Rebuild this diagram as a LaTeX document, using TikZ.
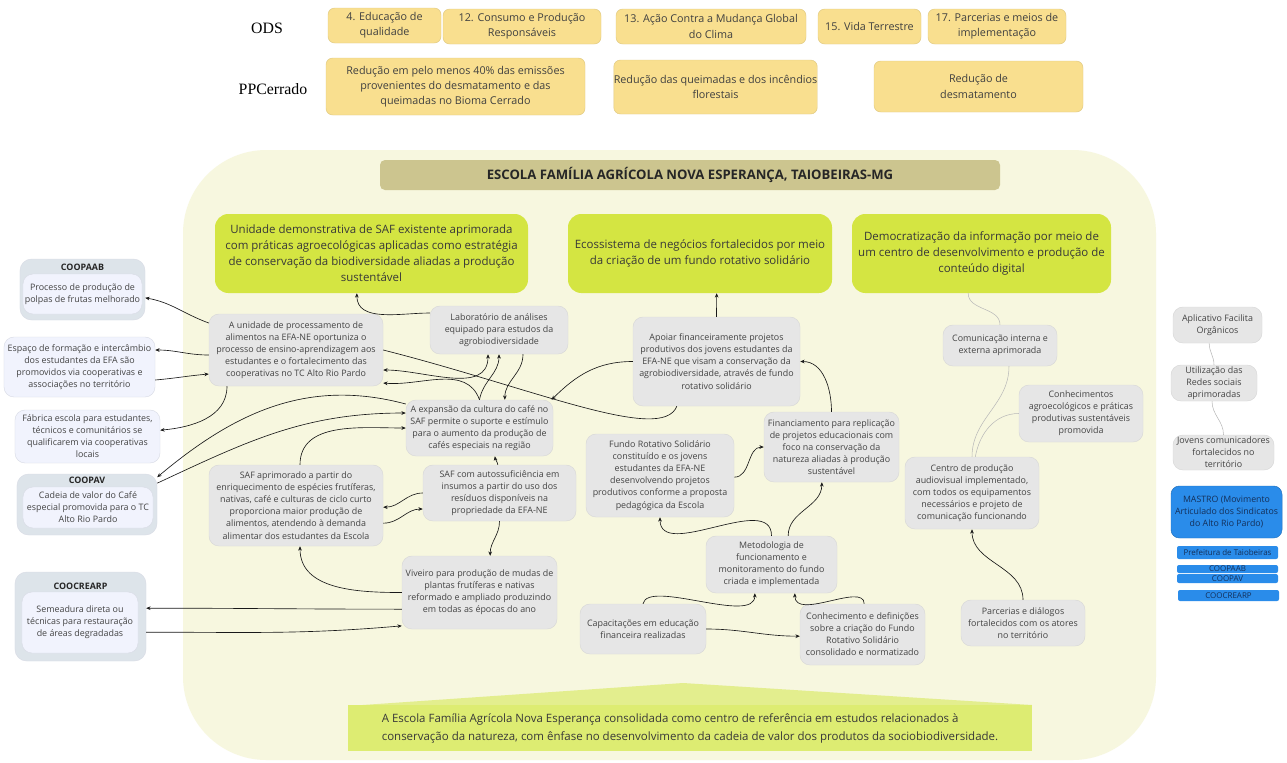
\documentclass[tikz,border=0pt]{standalone}
\usepackage{fontspec}
\setmainfont{Open Sans}
\newfontfamily\labelserif{Liberation Serif}
\usetikzlibrary{arrows.meta}

\definecolor{creambg}{HTML}{F7F7DF}
\definecolor{odsyellow}{HTML}{F9DF8F}
\definecolor{goalgreen}{HTML}{D4E542}
\definecolor{titlekhaki}{HTML}{CCC58F}
\definecolor{boxgray}{HTML}{E6E6E6}
\definecolor{boxedge}{HTML}{D8D8D8}
\definecolor{lavfill}{HTML}{F1F3FD}
\definecolor{lavedge}{HTML}{D9DCE6}
\definecolor{coopfill}{HTML}{DDE4EA}
\definecolor{mastroblue}{HTML}{2A8CEA}
\definecolor{navytext}{HTML}{14305A}
\definecolor{bannergreen}{HTML}{DDEC72}
\definecolor{roofgreen}{HTML}{E3EE8E}
\definecolor{txt}{HTML}{444444}

\begin{document}
\begin{tikzpicture}[x=0.3mm,y=0.3mm,
  gbox/.style={draw=boxedge, fill=boxgray, rounded corners=3mm, align=center, inner sep=0pt, text=txt, font=\fontsize{7.6}{10.3}\selectfont},
  lbox/.style={gbox, draw=lavedge, fill=lavfill},
  coopbox/.style={fill=coopfill, draw=lavedge, rounded corners=3.5mm, inner sep=0pt},
  coophead/.style={font=\bfseries\fontsize{7.6}{9}\selectfont, text=black!85},
  odsbox/.style={fill=odsyellow, draw=odsyellow!90!black, rounded corners=2mm, align=center, inner sep=0pt, text=black!75, font=\fontsize{9.2}{13}\selectfont},
  goalbox/.style={fill=goalgreen, rounded corners=4mm, align=center, inner sep=0pt, text=black!78, font=\fontsize{9.8}{13.6}\selectfont},
  bluebox/.style={fill=mastroblue, draw=mastroblue!80!black, rounded corners=2.5mm, align=center, inner sep=0pt, text=navytext, font=\fontsize{7.5}{10.2}\selectfont},
  bluebar/.style={fill=mastroblue, rounded corners=0.6mm, inner sep=0pt, minimum width=30.3mm, text=navytext, font=\fontsize{6.8}{8}\selectfont},
  arr/.style={-{Stealth[length=1.3mm,width=1.1mm]}, black!90, line width=0.55pt},
  lnk/.style={gray!55, line width=0.45pt}
]
\useasboundingbox (0,0) rectangle (1287,-762);
\fill[white] (0,0) rectangle (1287,-762);

% fundo da escola
\fill[creambg, rounded corners=25mm] (183,-150) rectangle (1156,-760);

% ODS e PPCerrado
\node[font=\labelserif\fontsize{13.5}{15}\selectfont] (ods) at (267,-28) {ODS};
\node[font=\labelserif\fontsize{13.5}{15}\selectfont] (ppc) at (273,-89) {PPCerrado};

\node[odsbox, minimum width=33.9mm, minimum height=10.5mm] (o4) at (384.5,-25.5) {4. Educação de\\qualidade};
\node[odsbox, minimum width=47.4mm, minimum height=10.5mm] (o12) at (522,-26.5) {12. Consumo e Produção\\Responsáveis};
\node[odsbox, minimum width=57mm, minimum height=10.5mm] (o13) at (711,-26.5) {13. Ação Contra a Mudança Global\\do Clima};
\node[odsbox, minimum width=30.9mm, minimum height=10.5mm] (o15) at (869.5,-26.5) {15. Vida Terrestre};
\node[odsbox, minimum width=41.4mm, minimum height=10.5mm] (o17) at (997,-26.5) {17. Parcerias e meios de\\implementação};

\node[odsbox, minimum width=77.7mm, minimum height=17.1mm] (pp1) at (455.5,-86.5) {Redução em pelo menos 40\% das emissões\\provenientes do desmatamento e das\\queimadas no Bioma Cerrado};
\node[odsbox, minimum width=57.3mm, minimum height=16.2mm] (pp2) at (715.5,-87) {Redução das queimadas e dos incêndios\\florestais};
\node[odsbox, minimum width=62.7mm, minimum height=15.3mm] (pp3) at (978.5,-86.5) {Redução de\\desmatamento};

% titulo
\node[fill=titlekhaki, rounded corners=1.5mm, minimum width=186mm, minimum height=9mm, inner sep=0pt,
  font=\bfseries\fontsize{11.2}{12}\selectfont, text=black!85] (escola) at (690,-175) {ESCOLA FAMÍLIA AGRÍCOLA NOVA ESPERANÇA, TAIOBEIRAS-MG};

% resultados
\node[goalbox, minimum width=93.9mm, minimum height=23.7mm] (G1) at (371.5,-253.5) {Unidade demonstrativa de SAF existente aprimorada\\com práticas agroecológicas aplicadas como estratégia\\de conservação da biodiversidade aliadas a produção\\sustentável};
\node[goalbox, minimum width=79.2mm, minimum height=23.7mm] (G2) at (700,-253.5) {Ecossistema de negócios fortalecidos por meio\\da criação de um fundo rotativo solidário};
\node[goalbox, minimum width=77.7mm, minimum height=23.7mm] (G3) at (981.5,-253.5) {Democratização da informação por meio de\\um centro de desenvolvimento e produção de\\conteúdo digital};

% caixas cinzas
\node[gbox, minimum width=52.2mm, minimum height=21.6mm] (A) at (296,-350) {A unidade de processamento de\\alimentos na EFA-NE oportuniza o\\processo de ensino-aprendizagem aos\\estudantes e o fortalecimento das\\cooperativas no TC Alto Rio Pardo};
\node[gbox, minimum width=41.4mm, minimum height=14.4mm] (L) at (499,-330) {Laboratório de análises\\equipado para estudos da\\agrobiodiversidade};
\node[gbox, minimum width=44.1mm, minimum height=16.8mm] (E) at (479.5,-428) {A expansão da cultura do café no\\SAF permite o suporte e estímulo\\para o aumento da produção de\\cafés especiais na região};
\node[gbox, minimum width=52.2mm, minimum height=24.3mm] (S1) at (296,-505.5) {SAF aprimorado a partir do\\enriquecimento de espécies frutíferas,\\nativas, café e culturas de ciclo curto\\proporciona maior produção de\\alimentos, atendendo à demanda\\alimentar dos estudantes da Escola};
\node[gbox, minimum width=45.9mm, minimum height=16.8mm] (S2) at (499.5,-493) {SAF com autossuficiência em\\insumos a partir do uso dos\\resíduos disponíveis na\\propriedade da EFA-NE};
\node[gbox, minimum width=46.5mm, minimum height=21.9mm] (V) at (479.5,-592.5) {Viveiro para produção de mudas de\\plantas frutíferas e nativas\\reformado e ampliado produzindo\\em todas as épocas do ano};
\node[gbox, minimum width=50.1mm, minimum height=26.7mm] (Ap) at (716.5,-361.5) {Apoiar financeiramente projetos\\produtivos dos jovens estudantes da\\EFA-NE que visam a conservação da\\agrobiodiversidade, através de fundo\\rotativo solidário};
\node[gbox, minimum width=44.4mm, minimum height=24.9mm] (F) at (660,-475.5) {Fundo Rotativo Solidário\\constituído e os jovens\\estudantes da EFA-NE\\desenvolvendo projetos\\produtivos conforme a proposta\\pedagógica da Escola};
\node[gbox, minimum width=40.5mm, minimum height=21mm] (Fi) at (831.5,-447) {Financiamento para replicação\\de projetos educacionais com\\foco na conservação da\\natureza aliadas à produção\\sustentável};
\node[gbox, minimum width=39.3mm, minimum height=17.1mm] (M) at (771.5,-564.5) {Metodologia de\\funcionamento e\\monitoramento do fundo\\criada e implementada};
\node[gbox, minimum width=37.8mm, minimum height=15mm] (C) at (643,-629) {Capacitações em educação\\financeira realizadas};
\node[gbox, minimum width=37.5mm, minimum height=18.3mm] (K) at (862.5,-634.5) {Conhecimento e definições\\sobre a criação do Fundo\\Rotativo Solidário\\consolidado e normatizado};
\node[gbox, minimum width=34.2mm, minimum height=12.3mm] (Co) at (1000,-345.5) {Comunicação interna e\\externa aprimorada};
\node[gbox, minimum width=37.2mm, minimum height=17.1mm] (Ca) at (1081,-413.5) {Conhecimentos\\agroecológicos e práticas\\produtivas sustentáveis\\promovida};
\node[gbox, minimum width=40.2mm, minimum height=21.6mm] (Ce) at (972,-493) {Centro de produção\\audiovisual implementado,\\com todos os equipamentos\\necessários e projeto de\\comunicação funcionando};
\node[gbox, minimum width=37.2mm, minimum height=13.8mm] (P) at (1023,-623) {Parcerias e diálogos\\fortalecidos com os atores\\no território};

% lado direito
\node[gbox, minimum width=26.7mm, minimum height=10.8mm] (Af) at (1217.5,-325) {Aplicativo Facilita\\Orgânicos};
\node[gbox, minimum width=25.8mm, minimum height=10.8mm] (U) at (1214,-383) {Utilização das\\Redes sociais\\aprimoradas};
\node[gbox, minimum width=30.3mm, minimum height=10.5mm] (J) at (1223.5,-452.5) {Jovens comunicadores\\fortalecidos no\\território};
\node[bluebox, minimum width=33.3mm, minimum height=15.6mm] (mastro) at (1226.5,-512) {MASTRO (Movimento\\Articulado dos Sindicatos\\do Alto Rio Pardo)};
\node[bluebar, minimum height=3.9mm] (pref) at (1227.5,-552.5) {Prefeitura de Taiobeiras};
\node[bluebar, minimum height=2.4mm] (bcoopaab) at (1227.5,-569) {COOPAAB};
\node[bluebar, minimum height=2.7mm] (bcoopav) at (1227.5,-578.5) {COOPAV};
\node[bluebar, minimum height=3.3mm] (bcoocrearp) at (1228.5,-595.5) {COOCREARP};

% lado esquerdo
\node[coopbox, minimum width=37.5mm, minimum height=18.3mm] (coopaab) at (82.5,-289.5) {};
\node[coophead] (coopaabT) at (82.5,-267) {COOPAAB};
\node[lbox, minimum width=35.7mm, minimum height=12mm] (coopaabIn) at (82.5,-294) {Processo de produção de\\polpas de frutas melhorado};
\node[lbox, minimum width=45.3mm, minimum height=18mm] (esp) at (79.5,-367) {Espaço de formação e intercâmbio\\dos estudantes da EFA são\\promovidos via cooperativas e\\associações no território};
\node[lbox, minimum width=43.5mm, minimum height=15.9mm] (fab) at (87.5,-436.5) {Fábrica escola para estudantes,\\técnicos e comunitários se\\qualificarem via cooperativas\\locais};
\node[coopbox, minimum width=42mm, minimum height=18.3mm] (coopav) at (87,-504.5) {};
\node[coophead] (coopavT) at (87,-480.5) {COOPAV};
\node[lbox, minimum width=39mm, minimum height=12.3mm] (coopavIn) at (88,-507.5) {Cadeia de valor do Café\\especial promovida para o TC\\Alto Rio Pardo};
\node[coopbox, minimum width=39.3mm, minimum height=26.7mm] (coocrearp) at (80.5,-616.5) {};
\node[coophead] (coocrearpT) at (80.5,-586) {COOCREARP};
\node[lbox, minimum width=34.8mm, minimum height=18.3mm] (coocrearpIn) at (80,-622.5) {Semeadura direta ou\\técnicas para restauração\\de áreas degradadas};

% resultado final
\fill[roofgreen] (348,-706) -- (683,-683) -- (1032,-705) -- cycle;
\fill[bannergreen] (348,-705) rectangle (1032,-751);
\node[align=left, text=black!78, font=\fontsize{9.8}{14.8}\selectfont] (final) at (690,-728.5) {A Escola Família Agrícola Nova Esperança consolidada como centro de referência em estudos relacionados à\\conservação da natureza, com ênfase no desenvolvimento da cadeia de valor dos produtos da sociobiodiversidade.};

% conexoes
\draw[arr] ([yshift=8.1mm]A.west) to[out=160,in=-10] ([yshift=-2.5mm]coopaab.east);
\draw[arr] ([yshift=-1.5mm]A.west) to[out=180,in=0] ([yshift=5.1mm]esp.east);
\draw[arr] ([yshift=-3.9mm]esp.east) to[out=5,in=185] ([yshift=-7.2mm]A.west);
\draw[arr] ([xshift=-20.7mm]A.south) to[out=-90,in=5] ([yshift=1.9mm]fab.east);
\draw[arr] ([yshift=7.2mm]E.west) to[out=165,in=40] ([yshift=8.2mm]coopav.east);
\draw[arr] ([yshift=6.4mm]coopav.east) to[out=25,in=180] ([yshift=4.5mm]E.west);
\draw[arr] ([xshift=1.2mm]S1.north) to[out=90,in=180] (E.west);
\draw[arr] (E.north) to[out=80,in=-90] (L.south);
\draw[arr] ([xshift=7.2mm]L.south) to[out=-90,in=90] ([xshift=7.6mm]E.north);
\draw[arr] (E.north) to[out=110,in=-5] ([yshift=-9.9mm]A.east);
\draw[arr, {Stealth[length=1.3mm,width=1.1mm]}-{Stealth[length=1.3mm,width=1.1mm]}] ([yshift=-6mm]A.east) to[out=0,in=-90] ([xshift=-3.3mm]L.south);
\draw[arr] ([yshift=5.1mm]L.west) to[out=180,in=-90] ([xshift=-4.4mm]G1.south);
\draw[black!90, line width=0.55pt] (A.east) .. controls +(150,-38) and +(-15,-38) .. ([xshift=-11.9mm]Ap.south);
\draw[arr] (Ap.west) to[out=180,in=45] ([xshift=-0.5mm]E.north east);
\draw[arr] (Ap.north) -- ([xshift=5mm]G2.south);
\draw[arr] (Fi.north) to[out=90,in=0] (Ap.east);
\draw[arr] ([yshift=-0.5mm]F.east) to[out=0,in=180] (Fi.west);
\draw[arr] ([xshift=5mm]M.north) to[out=90,in=-90] ([xshift=-2.9mm]Fi.south);
\draw[arr] (M.north) to[out=90,in=-90] (F.south);
\draw[arr] (C.north) .. controls +(5,25) and +(0,-32) .. ([xshift=-5mm]M.south);
\draw[arr] ([xshift=0.5mm]K.north) .. controls +(0,22) and +(0,-28) .. ([xshift=7mm]M.south);
\draw[arr] (C.east) to[out=0,in=180] ([yshift=-0.5mm]K.west);
\draw[arr] ([xshift=-0.5mm]S2.north) to[out=100,in=-80] ([xshift=4.6mm]E.south);
\draw[arr] (S2.west) to[out=180,in=0] ([yshift=-0.5mm]S1.east);
\draw[arr] ([yshift=-5.3mm]S1.east) to[out=0,in=180] ([yshift=-4.8mm]S2.west);
\draw[arr] (S2.south) to[out=-90,in=90] ([xshift=3.2mm]V.north);
\draw[arr] (V.west) to[out=180,in=-90] ([xshift=1.2mm]S1.south);
\draw[arr] ([yshift=-5mm]V.west) to[out=180,in=0] ([yshift=2.5mm]coocrearp.east);
\draw[arr] ([yshift=-4.7mm]coocrearp.east) to[out=0,in=185] ([yshift=-10mm]V.west);
\draw[arr] (P.north) to[out=90,in=-90] (Ce.south);

\draw[lnk] ([xshift=-4mm]G3.south) to[out=-90,in=90] (Co.north);
\draw[lnk] ([xshift=2.7mm]Co.south) to[out=-90,in=90] (Ce.north);
\draw[lnk] (Ca.west) to[out=180,in=80] ([xshift=1mm]Ce.north);
\draw[lnk] ([xshift=-2.5mm]Af.south) to[out=-90,in=90] (U.north);
\draw[lnk] ([xshift=-0.6mm]U.south) to[out=-90,in=90] (J.north);
\end{tikzpicture}
\end{document}
